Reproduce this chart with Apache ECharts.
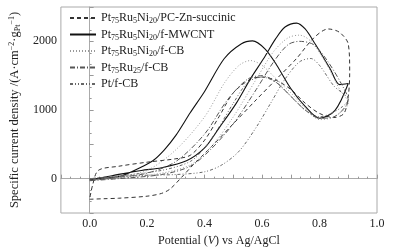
<!DOCTYPE html>
<html>
<head>
<meta charset="utf-8">
<script src="https://cdn.jsdelivr.net/npm/echarts@6/dist/echarts.min.js"></script>
<style>
  html, body { margin: 0; padding: 0; background: #fff; }
  #chart { width: 393px; height: 252px; }
</style>
</head>
<body>
<div id="chart"></div>
<script>
// legend names (plain keys, rich text is added in the formatter)
const names = ['PC-Zn', 'MWCNT', 'NiCB', 'RuCB', 'PtCB'];
const labels = {
    'PC-Zn': 'Pt{s|75}Ru{s|5}Ni{s|20}/PC-Zn-succinic',
    'MWCNT': 'Pt{s|75}Ru{s|5}Ni{s|20}/f-MWCNT',
    'NiCB': 'Pt{s|75}Ru{s|5}Ni{s|20}/f-CB',
    'RuCB': 'Pt{s|75}Ru{s|25}/f-CB',
    'PtCB': 'Pt/f-CB'
};

// CV loops: [potential V, current density]
const pcZn = [
    [0, -300], [0.05, -292], [0.1, -285], [0.2, -255], [0.25, -215], [0.28, -150], [0.32, 20],
    [0.36, 200], [0.42, 450], [0.5, 800], [0.58, 1150], [0.65, 1450], [0.72, 1750], [0.78, 2050],
    [0.83, 2180], [0.87, 2130], [0.9, 1960], [0.905, 1550], [0.9, 1200], [0.885, 950],
    [0.85, 890], [0.8, 950], [0.75, 1100], [0.7, 1300], [0.65, 1430], [0.6, 1480], [0.56, 1450],
    [0.5, 1250], [0.45, 900], [0.4, 560], [0.35, 340], [0.3, 290], [0.2, 240], [0.1, 180],
    [0.03, 120], [0.01, -100], [0, -300]
];
const mwcnt = [
    [0, -15], [0.06, 10], [0.113, 43], [0.182, 173], [0.22, 260], [0.26, 420], [0.3, 630],
    [0.35, 960], [0.4, 1270], [0.468, 1746], [0.527, 1962], [0.567, 2006], [0.61, 1890],
    [0.65, 1660], [0.7, 1313], [0.75, 1053], [0.8, 880], [0.854, 995], [0.9, 1385], [0.87, 1370],
    [0.837, 1600], [0.785, 1960], [0.75, 2180], [0.72, 2265], [0.68, 2208], [0.647, 2035],
    [0.605, 1746], [0.56, 1457], [0.51, 1097], [0.45, 736], [0.4, 447], [0.337, 260],
    [0.25, 159], [0.18, 120], [0.078, 43], [0, -15]
];
const niCB = [
    [0, -20], [0.1, 30], [0.2, 120], [0.3, 420], [0.4, 900], [0.47, 1400], [0.52, 1650],
    [0.56, 1720], [0.6, 1650], [0.65, 1450], [0.7, 1250], [0.75, 1030], [0.8, 860],
    [0.85, 900], [0.9, 1100], [0.87, 1300], [0.82, 1700], [0.77, 2000], [0.73, 2090],
    [0.69, 2050], [0.64, 1850], [0.58, 1450], [0.5, 900], [0.42, 450], [0.35, 200],
    [0.25, 80], [0.1, 10], [0, -20]
];
const ruCB = [
    [0, -30], [0.1, 20], [0.2, 80], [0.3, 250], [0.4, 650], [0.48, 1150], [0.55, 1450],
    [0.6, 1500], [0.65, 1400], [0.7, 1200], [0.75, 1000], [0.8, 880], [0.85, 900],
    [0.9, 1150], [0.88, 1350], [0.83, 1700], [0.78, 1950], [0.73, 2000], [0.69, 1950],
    [0.64, 1700], [0.58, 1300], [0.5, 800], [0.42, 420], [0.35, 180], [0.25, 60],
    [0.1, 0], [0, -30]
];
const ptCB = [
    [0, 0], [0.1, 30], [0.2, 50], [0.3, 60], [0.4, 100], [0.46, 200], [0.52, 400],
    [0.58, 750], [0.63, 1100], [0.68, 1450], [0.73, 1700], [0.77, 1750], [0.8, 1650],
    [0.85, 1350], [0.9, 1150], [0.88, 1050], [0.84, 950], [0.8, 900], [0.75, 1000],
    [0.7, 1200], [0.65, 1400], [0.6, 1480], [0.55, 1400], [0.5, 1100], [0.45, 750],
    [0.4, 450], [0.35, 250], [0.25, 120], [0.1, 40], [0, 0]
];

const serif = 'Liberation Serif';

function loop(name, data, color, type, width) {
    return {
        name: name,
        type: 'line',
        data: data,
        smooth: 0.3,
        symbol: 'none',
        itemStyle: { color: color },
        lineStyle: { color: color, type: type, width: width }
    };
}

var chart = echarts.init(document.getElementById('chart'));
var option = {
    animation: false,
    grid: {
        left: 59, right: 16, top: 7, bottom: 36,
        show: true, borderColor: '#aaa', borderWidth: 1
    },
    legend: {
        data: names,
        orient: 'vertical',
        left: 64, top: 6,
        itemWidth: 26, itemHeight: 10, itemGap: 2.5,
        itemStyle: { opacity: 0 },
        formatter: function (n) { return labels[n]; },
        textStyle: {
            fontFamily: serif, fontSize: 12, color: '#222', lineHeight: 14,
            rich: {
                s: { fontFamily: serif, fontSize: 8, color: '#222', lineHeight: 5, verticalAlign: 'bottom' }
            }
        }
    },
    xAxis: {
        type: 'value',
        min: -0.1, max: 1.0, interval: 0.1,
        name: 'Potential ({i|V}) vs Ag/AgCl',
        nameLocation: 'middle', nameGap: 22,
        nameTextStyle: {
            fontFamily: serif, fontSize: 12, color: '#222',
            rich: { i: { fontFamily: serif, fontSize: 12, fontStyle: 'italic', color: '#222' } }
        },
        axisLine: { lineStyle: { color: '#aaa' } },
        axisTick: { inside: true, length: 4, lineStyle: { color: '#999' } },
        minorTick: { show: true, splitNumber: 3, length: 2, lineStyle: { color: '#999' } },
        splitLine: { show: false },
        axisLabel: {
            fontFamily: serif, fontSize: 12, color: '#222', margin: 5,
            formatter: function (v) {
                var k = Math.round(v * 10);
                return (k >= 0 && k % 2 === 0) ? (k / 10).toFixed(1) : '';
            }
        }
    },
    yAxis: {
        type: 'value',
        min: -500, max: 2500, interval: 500,
        name: 'Specific current density /(A·cm{p|−2}·g{b|Pt}{p|−1})',
        nameLocation: 'middle', nameGap: 30,
        nameTextStyle: {
            fontFamily: serif, fontSize: 12.5, color: '#222', lineHeight: 14,
            rich: {
                p: { fontFamily: serif, fontSize: 8, color: '#222', lineHeight: 5, verticalAlign: 'top' },
                b: { fontFamily: serif, fontSize: 8, color: '#222', lineHeight: 5, verticalAlign: 'bottom' }
            }
        },
        axisLine: { show: true, lineStyle: { color: '#aaa' } },
        axisTick: { show: true, inside: true, length: 4, lineStyle: { color: '#999' } },
        minorTick: { show: true, splitNumber: 3, length: 2, lineStyle: { color: '#999' } },
        splitLine: { show: false },
        axisLabel: {
            fontFamily: serif, fontSize: 12, color: '#222', margin: 4,
            formatter: function (v) { return v % 1000 === 0 ? String(v) : ''; }
        }
    },
    series: [
        loop('PC-Zn', pcZn, '#333', [4, 3], 1),
        loop('MWCNT', mwcnt, '#111', 'solid', 1.1),
        loop('NiCB', niCB, '#999', [1, 2], 1),
        loop('RuCB', ruCB, '#555', [5, 2, 1, 2], 1),
        loop('PtCB', ptCB, '#666', [3, 2, 1, 2, 1, 2], 1)
    ]
};
chart.setOption(option);
</script>
</body>
</html>
